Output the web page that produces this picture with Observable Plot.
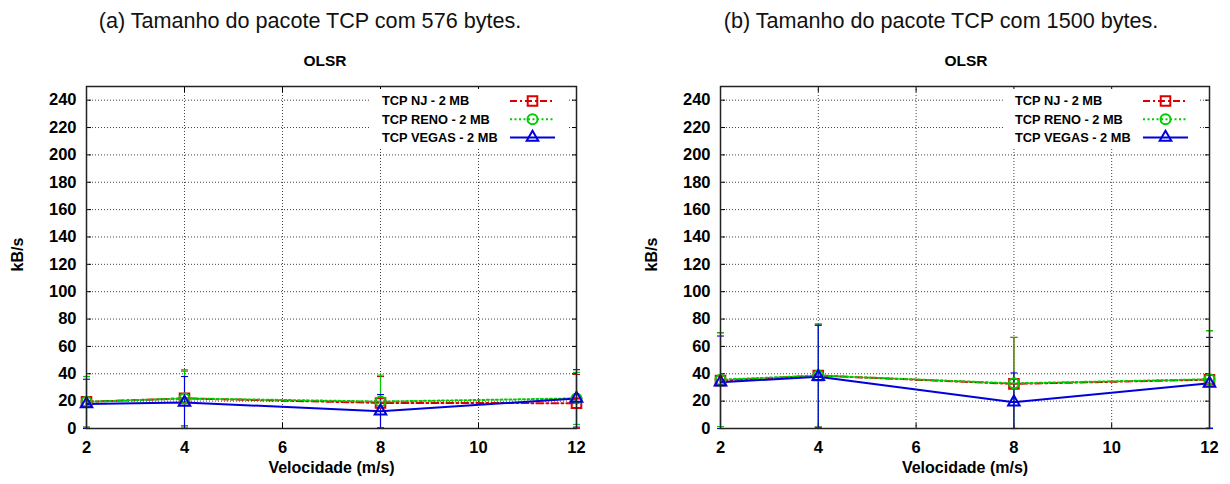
<!DOCTYPE html>
<html>
<head>
<meta charset="utf-8">
<script src="https://cdn.jsdelivr.net/npm/d3@7"></script>
<script src="https://cdn.jsdelivr.net/npm/@observablehq/plot@0.6"></script>
<style>
  body { margin: 0; background: #fff; font-family: "Liberation Sans", Arial, sans-serif; }
  #fig { position: relative; width: 1230px; height: 484px; overflow: hidden; background: #fff; }
  .panel { position: absolute; top: 0; width: 615px; height: 484px; }
  .caption { position: absolute; top: 10px; font-size: 21.6px; line-height: 1; white-space: nowrap; transform: translateX(-50%); color: #111; }
  .title { position: absolute; top: 53px; font-size: 15.5px; line-height: 1; font-weight: bold; white-space: nowrap; transform: translateX(-50%); color: #000; }
</style>
</head>
<body>
<div id="fig"></div>
<script>
// Mobile speeds (m/s) and axis ticks
const speeds = [2, 4, 8, 12];
const xTicks = [2, 4, 6, 8, 10, 12];
const yTicks = [0, 20, 40, 60, 80, 100, 120, 140, 160, 180, 200, 220, 240];
const seriesNames = ["TCP NJ - 2 MB", "TCP RENO - 2 MB", "TCP VEGAS - 2 MB"];

// Throughput (kB/s) and standard deviation, 576-byte TCP packets
const nj576 = [19.5, 22, 18.7, 18.5];
const nj576Sd = [18.5, 20, 19.3, 21];
const reno576 = [19.5, 22, 19.7, 22];
const reno576Sd = [18.5, 21, 19.3, 19];
const vegas576 = [18, 19, 12.6, 22];
const vegas576Sd = [18, 19, 12.2, 21];

// Throughput (kB/s) and standard deviation, 1500-byte TCP packets
const nj1500 = [35, 38.7, 32.6, 35.7];
const nj1500Sd = [35, 37.6, 34, 35.8];
const reno1500 = [35.7, 38.7, 33, 36];
const reno1500Sd = [34.3, 37.6, 33.6, 35.5];
const vegas1500 = [33.8, 37.9, 19.2, 33];
const vegas1500Sd = [33.8, 37.5, 21.4, 33.6];

const FONT = "Liberation Sans, Arial, Helvetica, sans-serif";

const styles = [
  {color: "#dd0000", dash: "7,3,2,3", symbol: "square", r: 5.4},
  {color: "#00cc00", dash: "2,2.5", symbol: "circle", r: 5},
  {color: "#0000dd", dash: null, symbol: "triangle", r: 4.3}
];

// Horizontal cap drawn at each end of an error bar
const capSymbol = {draw(ctx) { ctx.moveTo(-3.5, 0); ctx.lineTo(3.5, 0); }};

function rows(means, sds) {
  return speeds.map((x, i) => ({
    x, y: means[i],
    lo: Math.max(0, means[i] - sds[i]),
    hi: means[i] + sds[i]
  }));
}

// Key in the upper right corner of the frame
function keyMark(index, scales, values, dim) {
  const right = dim.width - dim.marginRight;
  const top = dim.marginTop;
  const g = d3.create("svg:g");
  g.append("rect")
    .attr("x", right - 205).attr("y", top + 3)
    .attr("width", 196).attr("height", 58)
    .attr("fill", "white");
  styles.forEach((s, i) => {
    const y = top + 15 + i * 18.2;
    g.append("text")
      .attr("x", right - 194).attr("y", y).attr("dy", "0.35em")
      .attr("text-anchor", "start")
      .attr("font-family", FONT).attr("font-size", 12.8).attr("font-weight", "bold")
      .attr("fill", "#000")
      .text(seriesNames[i]);
    g.append("line")
      .attr("x1", right - 66).attr("x2", right - 21)
      .attr("y1", y).attr("y2", y)
      .attr("stroke", s.color).attr("stroke-width", 2)
      .attr("stroke-dasharray", s.dash);
    const sym = {square: d3.symbolSquare, circle: d3.symbolCircle, triangle: d3.symbolTriangle}[s.symbol];
    g.append("path")
      .attr("transform", `translate(${right - 43.5},${y})`)
      .attr("d", d3.symbol(sym, s.r * s.r * Math.PI)())
      .attr("fill", "none").attr("stroke", s.color).attr("stroke-width", 2);
  });
  return g.node();
}

function panel(series, marginLeft, marginRight) {
  const errMarks = [], lineMarks = [], dotMarks = [];
  series.forEach((data, i) => {
    const s = styles[i];
    errMarks.push(
      Plot.ruleX(data, {x: "x", y1: "lo", y2: "hi", stroke: s.color, strokeWidth: 1.1}),
      Plot.dot(data, {x: "x", y: "hi", symbol: capSymbol, stroke: s.color, strokeWidth: 1.1, fill: "none"}),
      Plot.dot(data, {x: "x", y: "lo", symbol: capSymbol, stroke: s.color, strokeWidth: 1.1, fill: "none"})
    );
    lineMarks.push(
      Plot.line(data, {x: "x", y: "y", stroke: s.color, strokeWidth: 2, strokeDasharray: s.dash})
    );
    dotMarks.push(
      Plot.dot(data, {x: "x", y: "y", symbol: s.symbol, r: s.r, stroke: s.color, strokeWidth: 2, fill: "none"})
    );
  });
  return Plot.plot({
    width: 615,
    height: 484,
    marginTop: 86,
    marginBottom: 56,
    marginLeft,
    marginRight,
    style: {fontFamily: FONT, background: "white", overflow: "visible"},
    x: {domain: [2, 12]},
    y: {domain: [0, 250]},
    marks: [
      Plot.gridY(yTicks.filter(d => d > 0), {stroke: "#000", strokeOpacity: 0.75, strokeDasharray: "1,2"}),
      Plot.gridX(xTicks.filter(d => d > 2 && d < 12), {stroke: "#000", strokeOpacity: 0.75, strokeDasharray: "1,2"}),
      Plot.axisX(xTicks, {tickSize: 0, tickPadding: 13, fontSize: 16.5, fontWeight: "bold", label: null, fill: "#000"}),
      Plot.axisY(yTicks, {tickSize: 0, tickPadding: 10, fontSize: 16.5, fontWeight: "bold", label: null, fill: "#000"}),
      Plot.axisY(yTicks, {anchor: "left", tickSize: -5, tickFormat: () => "", label: null}),
      Plot.axisY(yTicks, {anchor: "right", tickSize: -5, tickFormat: () => "", label: null}),
      Plot.axisX(xTicks, {anchor: "bottom", tickSize: -5, tickFormat: () => "", label: null}),
      Plot.axisX(xTicks, {anchor: "top", tickSize: -5, tickFormat: () => "", label: null}),
      keyMark,
      ...errMarks,
      ...lineMarks,
      ...dotMarks,
      Plot.frame({stroke: "#222", strokeWidth: 1.5}),
      Plot.text(["kB/s"], {text: d => d, frameAnchor: "left", dx: -69, dy: 14, rotate: -90, fontSize: 16, fontWeight: "bold", fill: "#000"}),
      Plot.text(["Velocidade (m/s)"], {text: d => d, frameAnchor: "bottom", dy: 44, fontSize: 16, fontWeight: "bold", fill: "#000"})
    ]
  });
}

const fig = document.getElementById("fig");

function addPanel(left, svg, caption, captionX, titleX) {
  const div = document.createElement("div");
  div.className = "panel";
  div.style.left = left + "px";
  div.appendChild(svg);
  fig.appendChild(div);
  const cap = document.createElement("div");
  cap.className = "caption";
  cap.style.left = captionX + "px";
  cap.textContent = caption;
  fig.appendChild(cap);
  const ttl = document.createElement("div");
  ttl.className = "title";
  ttl.style.left = titleX + "px";
  ttl.textContent = "OLSR";
  fig.appendChild(ttl);
}

addPanel(0,
  panel([rows(nj576, nj576Sd), rows(reno576, reno576Sd), rows(vegas576, vegas576Sd)], 86, 39),
  "(a) Tamanho do pacote TCP com 576 bytes.", 310, 325);
addPanel(615,
  panel([rows(nj1500, nj1500Sd), rows(reno1500, reno1500Sd), rows(vegas1500, vegas1500Sd)], 105, 21),
  "(b) Tamanho do pacote TCP com 1500 bytes.", 941, 966);
</script>
</body>
</html>
